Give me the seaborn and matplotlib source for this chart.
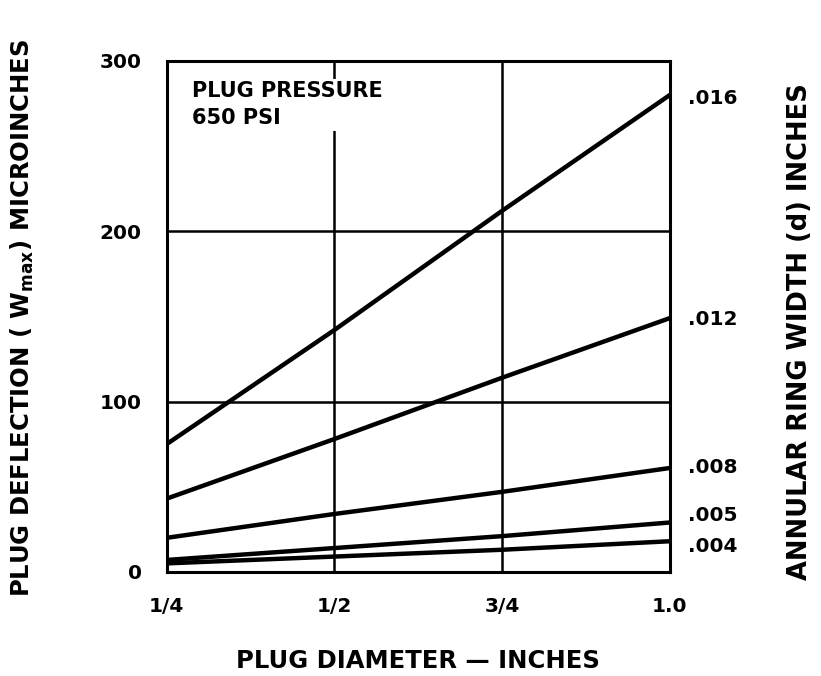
import matplotlib
matplotlib.use("Agg")
import matplotlib.pyplot as plt
import seaborn as sns
import pandas as pd

diameters = [0.25, 0.5, 0.75, 1.0]
x_tick_labels = ["1/4", "1/2", "3/4", "1.0"]
y_ticks = [0, 100, 200, 300]
ring_widths = [".016", ".012", ".008", ".005", ".004"]
defl_016 = [75, 142, 212, 280]
defl_012 = [43, 78, 114, 149]
defl_008 = [20, 34, 47, 61]
defl_005 = [7, 14, 21, 29]
defl_004 = [5, 9, 13, 18]

series = [defl_016, defl_012, defl_008, defl_005, defl_004]
rows = []
for w, vals in zip(ring_widths, series):
    for x, v in zip(diameters, vals):
        rows.append({"diameter": x, "deflection": v, "d": w})
df = pd.DataFrame(rows)

sns.set_theme(style="white")
plt.rcParams['font.family'] = ['DejaVu Sans']
plt.rcParams['text.color'] = 'black'
plt.rcParams['axes.labelcolor'] = 'black'
plt.rcParams['xtick.color'] = 'black'
plt.rcParams['ytick.color'] = 'black'

fig = plt.figure(figsize=(8.21, 6.76), dpi=100)
ax = fig.add_axes([0.203, 0.154, 0.613, 0.756])

sns.lineplot(data=df, x="diameter", y="deflection", hue="d",
             palette=["black"] * len(ring_widths), linewidth=3.2,
             legend=False, ax=ax, sort=False)

ax.set_xlim(0.25, 1.0)
ax.set_ylim(0, 300)
ax.set_xticks(diameters)
ax.set_xticklabels(x_tick_labels, fontsize=14.5, fontweight="bold")
ax.set_yticks(y_ticks)
ax.set_yticklabels([str(t) for t in y_ticks], fontsize=14.5, fontweight="bold")
ax.tick_params(axis="x", length=0, pad=18)
ax.tick_params(axis="y", length=0, pad=18)
ax.grid(True, color="black", linewidth=1.8)
ax.set_axisbelow(True)
for s in ax.spines.values():
    s.set_color("black")
    s.set_linewidth(2.2)

ax.set_xlabel("")
ax.set_ylabel("")
fig.text(0.509, 0.022, "PLUG DIAMETER — INCHES", fontsize=17.5, fontweight="bold",
         ha="center", va="center")
fig.text(0.027, 0.53, r"PLUG DEFLECTION ( W$_{\mathbf{max}}$) MICROINCHES", rotation=90,
         fontsize=17.5, fontweight="bold", ha="center", va="center")

label_offsets = [-2, -1, 0, 4, -3]
for w, vals, off in zip(ring_widths, series, label_offsets):
    ax.text(1.035, vals[-1] + off, w, transform=ax.get_yaxis_transform(),
            fontsize=14.5, fontweight="bold", va="center", ha="left")

fig.text(0.974, 0.51, "ANNULAR RING WIDTH (d) INCHES", rotation=90,
         fontsize=18.5, fontweight="bold", ha="center", va="center")

ax.text(0.05, 0.96, "PLUG PRESSURE\n650 PSI", transform=ax.transAxes,
        fontsize=15, fontweight="bold", va="top", ha="left", linespacing=1.45,
        bbox=dict(facecolor="white", edgecolor="none", pad=2))

fig.savefig("out.png", dpi=100)
